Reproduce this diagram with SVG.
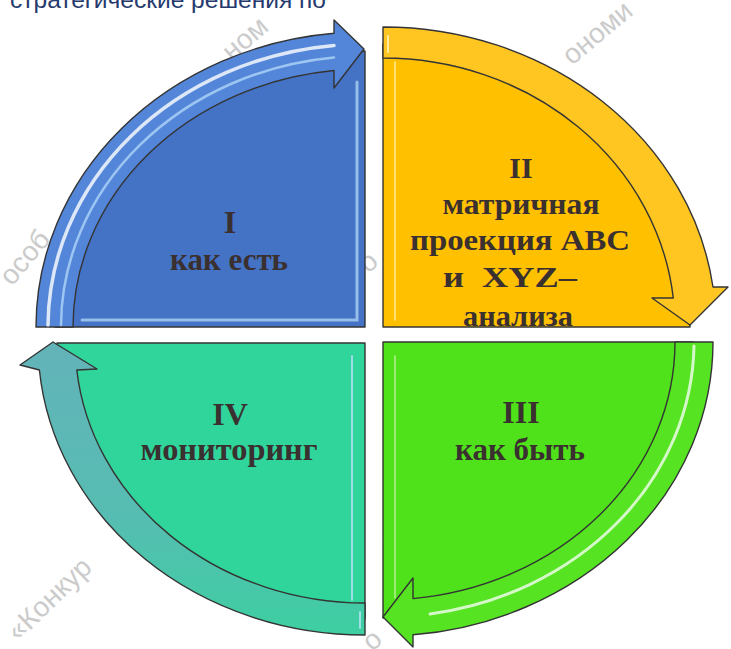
<svg xmlns="http://www.w3.org/2000/svg" width="731" height="649" viewBox="0 0 731 649">
  <defs>
    <style>
      .label{font-family:"Liberation Serif","Times New Roman",serif;font-weight:bold;fill:#3a3030;text-anchor:middle}
      .edge{stroke:#343434;stroke-width:1.4;stroke-linejoin:round}
      .wm{font-family:"Liberation Sans",Arial,sans-serif;fill:#cbcbcb;font-size:28px}
      .gloss{fill:none;stroke-linecap:round}
      .bevel{fill:none;stroke-linecap:round}
    </style>
    <linearGradient id="tealBand" x1="0" y1="0" x2="0" y2="1">
      <stop offset="0" stop-color="#63b3b9"/>
      <stop offset="0.6" stop-color="#56bdb2"/>
      <stop offset="1" stop-color="#3dcfa1"/>
    </linearGradient>
    <clipPath id="clipII"><rect x="383" y="27" width="348" height="299"/></clipPath>
  </defs>

  <rect width="731" height="649" fill="#ffffff"/>

  <!-- faint diagonal watermark behind the chart -->
  <g id="watermark">
    <text class="wm" transform="translate(232,62) rotate(-41)">ном</text>
    <text class="wm" transform="translate(572,66) rotate(-40)">ономи</text>
    <text class="wm" transform="translate(12,287) rotate(-50)">особ</text>
    <text class="wm" transform="translate(18,642) rotate(-44)">«Конкур</text>
    <text class="wm" transform="translate(368,274) rotate(-40)">о</text>
    <text class="wm" transform="translate(372,652) rotate(-40)">о</text>
  </g>

  <!-- heading line, cut by the top edge -->
  <text x="10" y="8" font-family="'Liberation Sans',Arial,sans-serif" font-size="24" fill="#263a6e" textLength="316" lengthAdjust="spacingAndGlyphs">стратегические решения по</text>

  <!-- stage I: top-left quadrant -->
  <g id="stage-1">
    <path class="edge" fill="#4472c4" d="M365,327 L55,327 A310,276 0 0 1 365,51 Z"/>
    <path class="bevel" d="M357,82 L357,320 L82,320" stroke="#a3cbf2" stroke-width="3" opacity="0.85"/>
    <text class="label" x="230" y="233" font-size="32">I</text>
    <text class="label" x="229" y="270" font-size="32" textLength="118" lengthAdjust="spacingAndGlyphs">как есть</text>
  </g>

  <!-- stage II: top-right quadrant -->
  <g id="stage-2">
    <path class="edge" fill="#ffc000" d="M383,327 L383,44 A307,283 0 0 1 690,327 Z"/>
    <path class="bevel" d="M395,62 L395,320" stroke="#fff3b0" stroke-width="1.6" opacity="0.8"/>
    <g clip-path="url(#clipII)">
      <text class="label" x="521" y="178" font-size="30">II</text>
      <text class="label" x="521" y="214" font-size="30" textLength="157" lengthAdjust="spacingAndGlyphs">матричная</text>
      <text class="label" x="520" y="250" font-size="30" textLength="220" lengthAdjust="spacingAndGlyphs">проекция ABC</text>
      <text class="label" x="510" y="287" font-size="30" textLength="134" lengthAdjust="spacingAndGlyphs" style="white-space:pre">и  XYZ–</text>
      <text class="label" x="518" y="326" font-size="30" textLength="110" lengthAdjust="spacingAndGlyphs">анализа</text>
    </g>
  </g>

  <!-- stage III: bottom-right quadrant -->
  <g id="stage-3">
    <path class="edge" fill="#4fe21a" d="M383,342 L693,342 A310,276 0 0 1 383,618 Z"/>
    <path class="bevel" d="M395,356 L395,598" stroke="#c9f2a6" stroke-width="1.6" opacity="0.8"/>
    <text class="label" x="521" y="423" font-size="32">III</text>
    <text class="label" x="520" y="460" font-size="32" textLength="130" lengthAdjust="spacingAndGlyphs">как быть</text>
  </g>

  <!-- stage IV: bottom-left quadrant -->
  <g id="stage-4">
    <path class="edge" fill="#2fd59b" d="M365,343 L365,619 A308,276 0 0 1 57,343 Z"/>
    <path class="bevel" d="M352,356 L352,600" stroke="#a9dcf2" stroke-width="2" opacity="0.9"/>
    <text class="label" x="230" y="425" font-size="32">IV</text>
    <text class="label" x="229" y="460" font-size="32" textLength="177" lengthAdjust="spacingAndGlyphs">мониторинг</text>
  </g>

  <!-- curved cycle arrows running I -> II -> III -> IV -> I -->
  <g id="connectors">
    <g id="arrow-1-2">
      <path class="edge" fill="#5386d9" d="M36,327 A329,295 0 0 1 334,33.3 L334,20 L364,49 L334,88 L334,70.5 A292,258 0 0 0 73,327 Z"/>
      <path class="gloss" d="M48,325 A317,283 0 0 1 334,45.4" stroke="#ffffff" stroke-width="3.5" opacity="0.8"/>
      <path class="gloss" d="M61,325 A305,271 0 0 1 334,57.4" stroke="#b4dafa" stroke-width="2.5" opacity="0.75"/>
    </g>
    <g id="arrow-2-3">
      <path class="edge" fill="#ffc622" d="M383,27 A333,300 0 0 1 713,287 L728,287 L690,325 L652,298 L673.3,298 A292,269 0 0 0 383,58 Z"/>
      <path class="gloss" d="M388,36 L388,52" stroke="#fff4c0" stroke-width="2" opacity="0.8"/>
    </g>
    <g id="arrow-3-4">
      <path class="edge" fill="#56e322" d="M713,342 A330,294 0 0 1 413,634.8 L413,647 L383,617 L413,578 L413,598.6 A292,258 0 0 0 675,342 Z"/>
      <path class="gloss" d="M694,346 A311,276 0 0 1 430,614" stroke="#ffffff" stroke-width="3" opacity="0.75"/>
    </g>
    <g id="arrow-4-1">
      <path class="edge" fill="url(#tealBand)" d="M365,635 A327,292 0 0 1 39.4,370 L20,365 L53,342 L97,369 L76.8,370 A290,260 0 0 0 365,603 Z"/>
      <path class="gloss" d="M360,612 L360,628" stroke="#b4e4f4" stroke-width="2" opacity="0.8"/>
    </g>
  </g>
</svg>
